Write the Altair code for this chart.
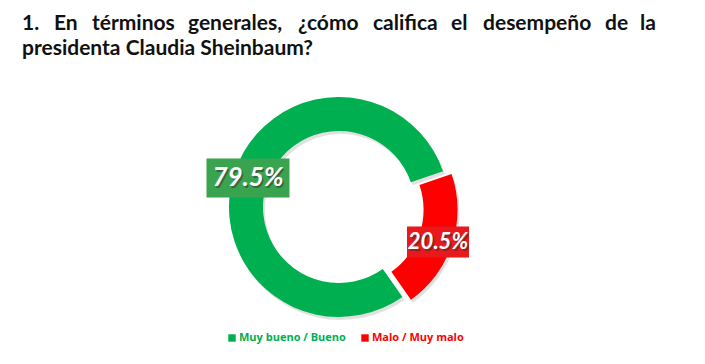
import math
import altair as alt
import pandas as pd

# ---------------- data ----------------
categories = ["Malo / Muy malo", "Muy bueno / Bueno"]
values = [20.5, 79.5]
order = [0, 1]
ring_colors = ["#ff0000", "#00b050"]
label_box_colors = ["#e8191c", "#3aa34f"]
label_texts = ["20.5%", "79.5%"]

legend_labels = ["Muy bueno / Bueno", "Malo / Muy malo"]
legend_colors = ["#00b050", "#ff0000"]

title_line1_words = ["1.", "En", "términos", "generales,", "¿cómo", "califica",
                     "el", "desempeño", "de", "la"]
title_line2 = "presidenta Claudia Sheinbaum?"

# ---------------- layout ----------------
W, H = 689, 348
CX, CY = 331, 199          # donut centre (chart coords)
R_OUT, R_IN = 110, 76
EXPLODE = 9
start = math.radians(71)
bis = start + math.radians(values[0] / 100 * 360) / 2
dx, dy = EXPLODE * math.sin(bis), -EXPLODE * math.cos(bis)

title_word_x = [14, 46, 84, 180, 290, 365, 443, 475, 597, 632]
title_font = "Lato"
title_size = 21

df = pd.DataFrame({"cat": categories, "value": values, "ord": order})

color_scale = alt.Scale(domain=categories, range=ring_colors)
theta = alt.Theta("value:Q", stack=True,
                  scale=alt.Scale(range=[start, start + 2 * math.pi]))


def ring(x, y, keep, colour=None, opac=1.0):
    enc = dict(
        theta=theta,
        order=alt.Order("ord:Q"),
        x=alt.value(x), y=alt.value(y),
        opacity=alt.condition(alt.datum.cat == keep, alt.value(opac), alt.value(0)),
    )
    if colour is None:
        enc["color"] = alt.Color("cat:N", scale=color_scale, legend=None)
    else:
        enc["color"] = alt.value(colour)
    return alt.Chart(df).mark_arc(radius=R_OUT, radius2=R_IN).encode(**enc)


green_shadow = ring(CX + 2, CY + 3, categories[1], "#777777", 0.22)
red_shadow = ring(CX + dx + 2, CY + dy + 3, categories[0], "#777777", 0.22)
green_ring = ring(CX, CY, categories[1])
red_ring = ring(CX + dx, CY + dy, categories[0])

# value label boxes
lab = pd.DataFrame({
    "txt": label_texts,
    "box": label_box_colors,
    "px": [430, 240],
    "py": [234, 170],
    "w": [62, 83],
    "h": [31, 39],
    "fs": [22, 26],
})
lab["x1"] = lab.px - lab.w / 2
lab["x2"] = lab.px + lab.w / 2
lab["y1"] = lab.py - lab.h / 2
lab["y2"] = lab.py + lab.h / 2

boxes = alt.Chart(lab).mark_rect().encode(
    x=alt.X("x1:Q", scale=None), x2="x2:Q",
    y=alt.Y("y1:Q", scale=None), y2="y2:Q",
    color=alt.Color("box:N", scale=None),
)
shadow = alt.Chart(lab).mark_text(fontStyle="italic", fontWeight="bold",
                                  font="Lato", color="#333333", opacity=0.55,
                                  dx=1.5, dy=1.5, baseline="middle").encode(
    x=alt.X("px:Q", scale=None), y=alt.Y("py:Q", scale=None),
    text="txt:N", size=alt.Size("fs:Q", scale=None),
)
texts = alt.Chart(lab).mark_text(fontStyle="italic", fontWeight="bold",
                                 font="Lato", color="white",
                                 baseline="middle").encode(
    x=alt.X("px:Q", scale=None), y=alt.Y("py:Q", scale=None),
    text="txt:N", size=alt.Size("fs:Q", scale=None),
)

# title
t1 = pd.DataFrame({"w": title_line1_words, "px": title_word_x})
title1 = alt.Chart(t1).mark_text(align="left", baseline="alphabetic", font=title_font,
                                 fontWeight="bold", fontSize=title_size,
                                 color="#111111").encode(
    x=alt.X("px:Q", scale=None), y=alt.value(22), text="w:N")
t2 = pd.DataFrame({"w": [title_line2]})
title2 = alt.Chart(t2).mark_text(align="left", baseline="alphabetic", font=title_font,
                                 fontWeight="bold", fontSize=title_size,
                                 color="#111111").encode(
    x=alt.value(14), y=alt.value(47), text="w:N")

# legend
lg = pd.DataFrame({"lab": legend_labels, "col": legend_colors,
                   "sx": [224, 357], "tx": [231, 364]})
leg_sq = alt.Chart(lg).mark_square(size=55, opacity=1).encode(
    x=alt.X("sx:Q", scale=None), y=alt.value(330),
    color=alt.Color("col:N", scale=None))
leg_tx = alt.Chart(lg).mark_text(align="left", baseline="middle", font="Open Sans",
                                 fontWeight="bold", fontSize=11).encode(
    x=alt.X("tx:Q", scale=None), y=alt.value(330), text="lab:N",
    color=alt.Color("col:N", scale=None))

chart = alt.layer(green_shadow, red_shadow, green_ring, red_ring, boxes, shadow, texts,
                  title1, title2, leg_sq, leg_tx).properties(
    width=W, height=H, padding=0, background="white"
).configure_view(stroke=None)

chart.save("out.html", embed_options={"renderer": "svg", "actions": False})
